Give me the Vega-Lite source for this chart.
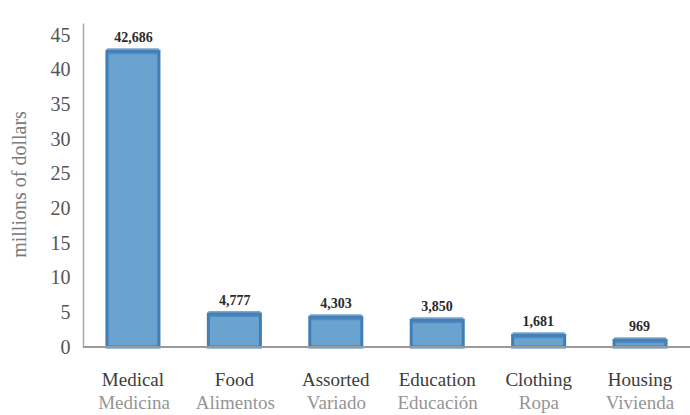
{
  "$schema": "https://vega.github.io/schema/vega-lite/v6.json",
  "autosize": "none",
  "padding": {"left": 83, "top": 23, "right": 0, "bottom": 68},
  "width": 607,
  "height": 324,
  "background": "#ffffff",
  "config": {
    "view": {"stroke": null},
    "font": "Liberation Serif"
  },
  "data": {
    "values": [
      {"en": "Medical", "es": "Medicina", "value": 42.686, "label": "42,686"},
      {"en": "Food", "es": "Alimentos", "value": 4.777, "label": "4,777"},
      {"en": "Assorted", "es": "Variado", "value": 4.303, "label": "4,303"},
      {"en": "Education", "es": "Educación", "value": 3.85, "label": "3,850"},
      {"en": "Clothing", "es": "Ropa", "value": 1.681, "label": "1,681"},
      {"en": "Housing", "es": "Vivienda", "value": 0.969, "label": "969"}
    ]
  },
  "encoding": {
    "y": {
      "field": "value",
      "type": "quantitative",
      "scale": {"domain": [0, 46.75], "nice": false, "zero": true},
      "axis": {
        "title": "millions of dollars",
        "titleFontSize": 20,
        "titleFontWeight": "normal",
        "titleColor": "#7a7a7a",
        "titleX": -64,
        "titleY": 161,
        "titleAngle": -90,
        "titleAlign": "center",
        "titleBaseline": "middle",
        "values": [0, 5, 10, 15, 20, 25, 30, 35, 40, 45],
        "labelFontSize": 20,
        "labelColor": "#555555",
        "labelPadding": 13,
        "ticks": false,
        "grid": false,
        "domainColor": "#a8a8a8",
        "domainWidth": 1.5
      }
    }
  },
  "layer": [
    {
      "encoding": {
        "x": {
          "field": "en",
          "type": "nominal",
          "sort": null,
          "scale": {"paddingInner": 0.487, "paddingOuter": 0.236},
          "axis": {
            "title": null,
            "domain": false,
            "ticks": false,
            "labelAngle": 0,
            "labelFontSize": 19,
            "labelColor": "#3c3c3c",
            "labelPadding": 23
          }
        }
      },
      "layer": [
        {"mark": {"type": "bar", "fill": "#6aa3d0", "stroke": "#3f7fb6", "strokeWidth": 3}},
        {"mark": {"type": "tick", "color": "#4682b9", "thickness": 6, "size": 52}}
      ]
    },
    {
      "mark": {"type": "rule", "color": "#9a9a9a", "strokeWidth": 1.5},
      "encoding": {"y": {"datum": 0}}
    },
    {
      "mark": {"type": "text", "baseline": "middle", "dy": -13, "fontSize": 14, "fontWeight": "bold", "color": "#2a2a2a"},
      "encoding": {
        "x": {
          "field": "es",
          "type": "nominal",
          "sort": null,
          "scale": {"paddingInner": 0.487, "paddingOuter": 0.236},
          "axis": {
            "orient": "bottom",
            "title": null,
            "domain": false,
            "ticks": false,
            "labelAngle": 0,
            "labelFontSize": 19,
            "labelColor": "#959595",
            "labelPadding": 46
          }
        },
        "text": {"field": "label"}
      }
    }
  ],
  "resolve": {"scale": {"x": "independent"}, "axis": {"x": "independent"}}
}
